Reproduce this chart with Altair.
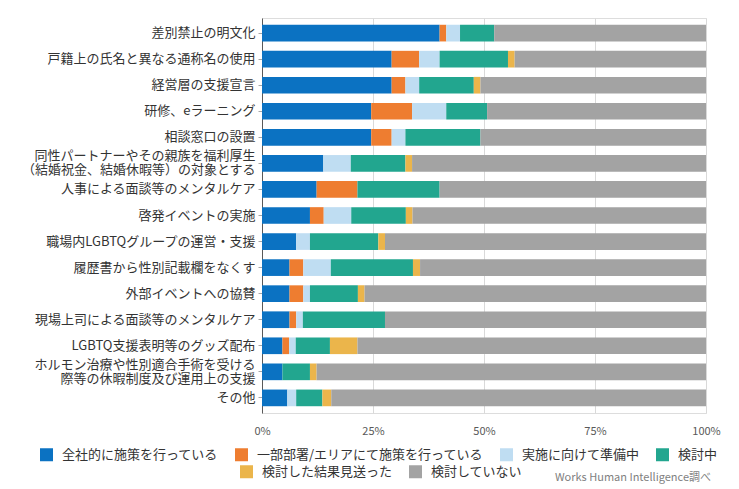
import altair as alt
import pandas as pd

categories = [
    "差別禁止の明文化",
    "戸籍上の氏名と異なる通称名の使用",
    "経営層の支援宣言",
    "研修、eラーニング",
    "相談窓口の設置",
    "同性パートナーやその親族を福利厚生\n（結婚祝金、結婚休暇等）の対象とする",
    "人事による面談等のメンタルケア",
    "啓発イベントの実施",
    "職場内LGBTQグループの運営・支援",
    "履歴書から性別記載欄をなくす",
    "外部イベントへの協賛",
    "現場上司による面談等のメンタルケア",
    "LGBTQ支援表明等のグッズ配布",
    "ホルモン治療や性別適合手術を受ける\n際等の休暇制度及び運用上の支援",
    "その他",
]

series = [
    "全社的に施策を行っている",
    "一部部署/エリアにて施策を行っている",
    "実施に向けて準備中",
    "検討中",
    "検討した結果見送った",
    "検討していない",
]
colors = ["#0B72C2", "#EE7D30", "#BFDDF2", "#22A68F", "#EBB54B", "#A3A3A3"]

v_company = [40.0, 29.2, 29.2, 24.6, 24.6, 13.8, 12.3, 10.8, 7.7, 6.2, 6.2, 6.2, 4.6, 4.6, 5.7]
v_partial = [1.5, 6.2, 3.1, 9.2, 4.6, 0.0, 9.2, 3.1, 0.0, 3.1, 3.1, 1.5, 1.5, 0.0, 0.0]
v_prepare = [3.1, 4.6, 3.1, 7.7, 3.1, 6.2, 0.0, 6.2, 3.1, 6.2, 1.5, 1.5, 1.5, 0.0, 2.0]
v_consider = [7.7, 15.4, 12.3, 9.2, 16.9, 12.3, 18.5, 12.3, 15.4, 18.5, 10.8, 18.5, 7.7, 6.2, 5.9]
v_rejected = [0.0, 1.5, 1.5, 0.0, 0.0, 1.5, 0.0, 1.5, 1.5, 1.6, 1.5, 0.0, 6.2, 1.5, 2.0]
v_none = [47.7, 43.1, 50.8, 49.3, 50.8, 66.2, 60.0, 66.1, 72.3, 64.4, 76.9, 72.3, 78.5, 87.7, 84.4]

values = [v_company, v_partial, v_prepare, v_consider, v_rejected, v_none]

rows = []
for i, cat in enumerate(categories):
    start = 0.0
    for s, vals in zip(series, values):
        v = vals[i]
        if v > 0:
            rows.append({"cat": cat, "series": s, "start": start / 100, "end": (start + v) / 100})
        start += v
df = pd.DataFrame(rows)
df1 = df[df["series"].isin(series[:4])]
df2 = df[df["series"].isin(series[4:])]

FONT = "Noto Sans CJK JP"

y_enc = alt.Y(
    "cat:N",
    sort=categories,
    scale=alt.Scale(paddingInner=0.36, paddingOuter=0.26),
    axis=alt.Axis(
        title=None,
        labelExpr="split(datum.label, '\\n')",
        labelFontSize=13,
        labelColor="#333333",
        labelLineHeight=14,
        labelLimit=400,
        labelOffset={"condition": {"test": "indexof(datum.label, '\\n') >= 0", "value": -7}, "value": 0},
        tickSize=4,
        tickColor="#A6A6A6",
        domainColor="#595959",
        labelPadding=3,
        labelFont=FONT,
    ),
)

x_enc = alt.X(
    "start:Q",
    scale=alt.Scale(domain=[0, 1], nice=False),
    axis=alt.Axis(
        values=[0, 0.25, 0.5, 0.75, 1],
        format=".0%",
        title=None,
        grid=True,
        gridColor="#D9D9D9",
        domain=False,
        ticks=False,
        labelFlush=False,
        labelFontSize=11,
        labelColor="#595959",
        labelPadding=12,
        labelFont=FONT,
    ),
)


def legend(x, y):
    return alt.Legend(
        orient="none",
        legendX=x,
        legendY=y,
        direction="horizontal",
        title=None,
        symbolType="square",
        symbolSize=169,
        symbolStrokeWidth=0,
        labelFontSize=13,
        labelColor="#333333",
        labelFont=FONT,
        labelOffset=9,
        columnPadding=16,
        labelLimit=400,
        padding=0,
    )


bars1 = alt.Chart(df1).mark_bar().encode(
    y=y_enc,
    x=x_enc,
    x2="end:Q",
    color=alt.Color(
        "series:N",
        scale=alt.Scale(domain=series[:4], range=colors[:4]),
        sort=series[:4],
        legend=legend(-222, 430),
    ),
)

bars2 = alt.Chart(df2).mark_bar().encode(
    y=alt.Y("cat:N", sort=categories),
    x=alt.X("start:Q"),
    x2="end:Q",
    color=alt.Color(
        "series:N",
        scale=alt.Scale(domain=series[4:], range=colors[4:]),
        sort=series[4:],
        legend=legend(-22, 447),
    ),
)

chart = (
    alt.layer(bars1, bars2)
    .resolve_scale(color="independent")
    .properties(
        width=444,
        height=395,
        autosize=alt.AutoSizeParams(type="none"),
        padding={"left": 254, "top": 10, "right": 25, "bottom": 76},
        title=alt.Title(
            "Works Human Intelligence調べ",
            orient="bottom",
            anchor="end",
            frame="group",
            fontSize=11,
            fontWeight="normal",
            color="#7F7F7F",
            font=FONT,
            offset=-7,
            dx=5,
        ),
    )
    .configure_view(stroke=None)
    .configure(font=FONT, background="white")
)

chart.save("out.html", embed_options={"renderer": "svg", "actions": False})
